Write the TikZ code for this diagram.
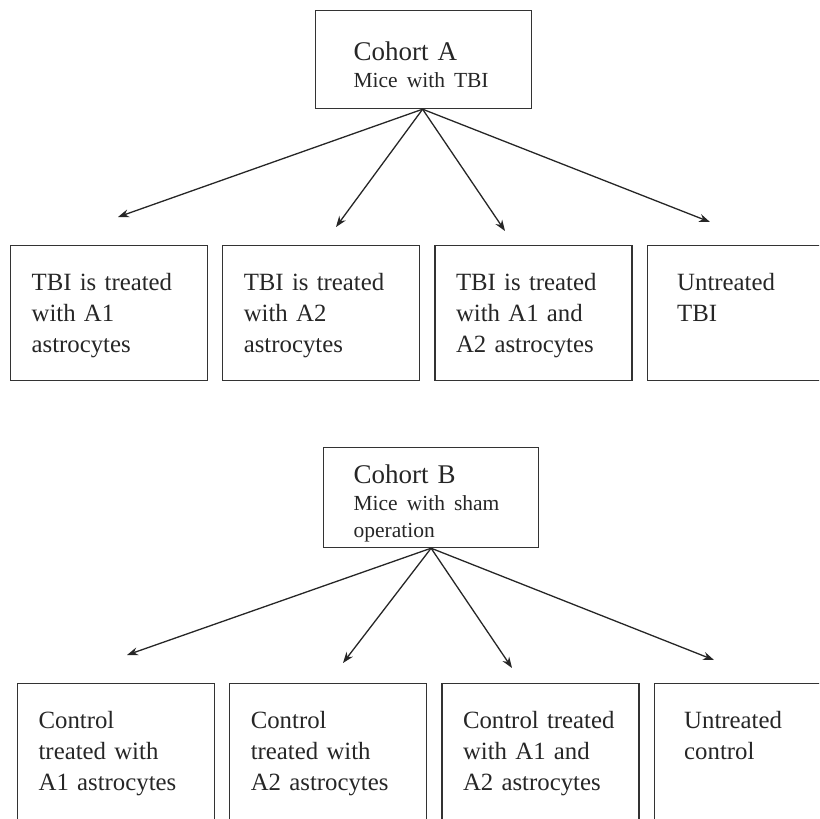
\documentclass[tikz,border=0pt]{standalone}
\usepackage{fontspec}
\setmainfont{Liberation Serif}
\usepackage{tikz}
\usetikzlibrary{arrows.meta,positioning}

\begin{document}
\begin{tikzpicture}[x=1pt, y=-1pt,
  cohort/.style={draw=black!80, line width=1.2pt, align=left, inner ysep=0pt, text=black!85,
    font=\fontsize{27}{27}\selectfont},
  group/.style={draw=black!80, line width=1.2pt, align=left, inner xsep=21pt, inner ysep=0pt,
    text width=155pt, text height=45pt, text depth=90pt, text=black!85,
    font=\fontsize{24.8}{31}\selectfont},
  link/.style={draw=black!85, line width=1.3pt, -{Stealth[length=11pt,width=8pt]}},
  node distance=14pt]
\useasboundingbox (0,0) rectangle (819,819);
\clip (0,0) rectangle (819,819);

% cohort A
\node[cohort, anchor=north west, inner xsep=38pt, text width=140pt, text height=50pt, text depth=48pt]
  (coA) at (315,10) {Cohort A\\ \fontsize{21.5}{27}\selectfont Mice with TBI};
\node[group, anchor=north west] (a1) at (10,245) {TBI is treated\\ with A1\\ astrocytes};
\node[group, right=of a1] (a2) {TBI is treated\\ with A2\\ astrocytes};
\node[group, right=of a2] (a3) {TBI is treated\\ with A1 and\\ A2 astrocytes};
\node[group, right=of a3, inner xsep=30pt] (a4) {Untreated\\ TBI};

\coordinate (oA) at ([xshift=-1pt]coA.south);
\coordinate (ea1) at (118,217);
\coordinate (ea2) at (336,227);
\coordinate (ea3) at (505,231);
\coordinate (ea4) at (710,222);
\foreach \e in {ea1,ea2,ea3,ea4}
  \draw[link] (oA) -- (\e);

% cohort B
\node[cohort, anchor=north west, inner xsep=30pt, text width=155pt, text height=36pt, text depth=64pt]
  (coB) at (323,447) {Cohort B\\ \fontsize{21.5}{27}\selectfont Mice with sham\\ \fontsize{21.5}{27}\selectfont operation};
\node[group, anchor=north west, text depth=150pt] (b1) at (17,683) {Control\\ treated with\\ A1 astrocytes};
\node[group, right=of b1.north east, anchor=north west, text depth=150pt] (b2) {Control\\ treated with\\ A2 astrocytes};
\node[group, right=of b2.north east, anchor=north west, text depth=150pt] (b3) {Control treated\\ with A1 and\\ A2 astrocytes};
\node[group, right=of b3.north east, anchor=north west, text depth=150pt, inner xsep=30pt] (b4) {Untreated\\ control};

\coordinate (oB) at (coB.south);
\coordinate (eb1) at (127,655);
\coordinate (eb2) at (343,663);
\coordinate (eb3) at (512,668);
\coordinate (eb4) at (714,660);
\foreach \e in {eb1,eb2,eb3,eb4}
  \draw[link] (oB) -- (\e);
\end{tikzpicture}
\end{document}
